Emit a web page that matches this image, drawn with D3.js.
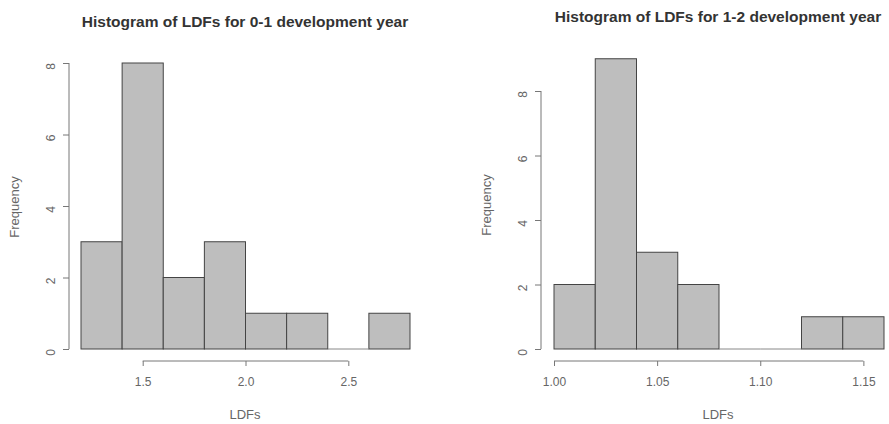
<!DOCTYPE html>
<html>
<head>
<meta charset="utf-8">
<script src="https://cdn.jsdelivr.net/npm/d3@7"></script>
<style>
  body { margin: 0; background: #fff; }
  svg { display: block; font-family: "Liberation Sans", Arial, sans-serif; }
  .axis path, .axis line { stroke: #777; }
  .axis text { fill: #666; font-size: 12px; }
</style>
</head>
<body>
<svg id="chart" width="889" height="424"></svg>
<script>
// 0-1 development year
const breaks01 = [1.2, 1.4, 1.6, 1.8, 2.0, 2.2, 2.4, 2.6, 2.8];
const counts01 = [3, 8, 2, 3, 1, 1, 0, 1];
const xTicks01 = [1.5, 2.0, 2.5];
const yTicks01 = [0, 2, 4, 6, 8];

// 1-2 development year
const breaks12 = [1.00, 1.02, 1.04, 1.06, 1.08, 1.10, 1.12, 1.14, 1.16];
const counts12 = [2, 9, 3, 2, 0, 0, 1, 1];
const xTicks12 = [1.00, 1.05, 1.10, 1.15];
const yTicks12 = [0, 2, 4, 6, 8];

const svg = d3.select("#chart");

function histogram(opts) {
    const g = svg.append("g");
    const x = d3.scaleLinear().domain([opts.breaks[0], opts.breaks[opts.breaks.length - 1]]).range(opts.xr);
    const y = d3.scaleLinear().domain([0, 8]).range([opts.y0, opts.y8]);

    const bins = opts.counts.map((c, i) => ({x0: opts.breaks[i], x1: opts.breaks[i + 1], n: c}));

    g.selectAll("rect")
        .data(bins.filter(d => d.n > 0))
        .enter()
        .append("rect")
            .attr("x", d => x(d.x0))
            .attr("y", d => y(d.n))
            .attr("width", d => x(d.x1) - x(d.x0))
            .attr("height", d => y(0) - y(d.n))
            .attr("fill", "#bebebe")
            .attr("stroke", "#444")
            .attr("stroke-width", 1);

    // empty bins still get their (flat) outline, like R's hist()
    g.selectAll("line.empty")
        .data(bins.filter(d => d.n === 0))
        .enter()
        .append("line")
            .attr("class", "empty")
            .attr("x1", d => x(d.x0)).attr("x2", d => x(d.x1))
            .attr("y1", y(0)).attr("y2", y(0))
            .attr("stroke", "#888");

    // x axis, R style: line spans first to last tick only
    const xAxis = g.append("g")
        .attr("class", "axis")
        .attr("transform", `translate(0,${opts.xAxisY})`)
        .call(d3.axisBottom(x).tickValues(opts.xTicks).tickSize(5).tickPadding(11).tickFormat(opts.xFmt));
    xAxis.select(".domain")
        .attr("d", `M${x(opts.xTicks[0])},0H${x(opts.xTicks[opts.xTicks.length - 1])}`);

    const yAxis = g.append("g")
        .attr("class", "axis")
        .attr("transform", `translate(${opts.yAxisX},0)`)
        .call(d3.axisLeft(y).tickValues(opts.yTicks).tickSize(6).tickPadding(12));
    yAxis.select(".domain")
        .attr("d", `M0,${y(opts.yTicks[0])}V${y(opts.yTicks[opts.yTicks.length - 1])}`);
    yAxis.selectAll(".tick text")
        .attr("transform", function() { return "rotate(-90," + this.getAttribute("x") + ",0)"; })
        .attr("text-anchor", "middle")
        .attr("dy", "0.32em")
        .attr("x", -21);

    g.append("text")
        .attr("x", opts.titleX).attr("y", opts.titleY)
        .attr("text-anchor", "middle")
        .attr("font-weight", "bold")
        .attr("font-size", 15.5)
        .attr("fill", "#333")
        .text(opts.title);

    g.append("text")
        .attr("x", opts.titleX).attr("y", 419)
        .attr("text-anchor", "middle")
        .attr("font-size", 13)
        .attr("fill", "#666")
        .text("LDFs");

    g.append("text")
        .attr("transform", `translate(${opts.freqX},${opts.freqY}) rotate(-90)`)
        .attr("text-anchor", "middle")
        .attr("font-size", 13)
        .attr("fill", "#666")
        .text("Frequency");
}

histogram({
    breaks: breaks01, counts: counts01, xTicks: xTicks01, yTicks: yTicks01,
    xr: [81, 410], y0: 349, y8: 63,
    xAxisY: 361, yAxisX: 69,
    xFmt: d3.format(".1f"),
    title: "Histogram of LDFs for 0-1 development year",
    titleX: 245, titleY: 27,
    freqX: 19, freqY: 207
});

histogram({
    breaks: breaks12, counts: counts12, xTicks: xTicks12, yTicks: yTicks12,
    xr: [554, 884], y0: 349, y8: 91,
    xAxisY: 361, yAxisX: 541,
    xFmt: d3.format(".2f"),
    title: "Histogram of LDFs for 1-2 development year",
    titleX: 718, titleY: 22,
    freqX: 491, freqY: 205
});
</script>
</body>
</html>
